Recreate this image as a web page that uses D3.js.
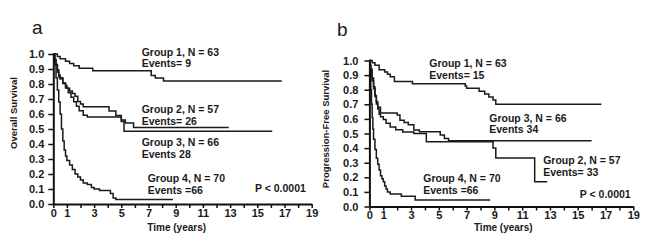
<!DOCTYPE html>
<html>
<head>
<meta charset="utf-8">
<script src="https://cdn.jsdelivr.net/npm/d3@7"></script>
<style>
html,body{margin:0;padding:0;background:#fff;}
svg{display:block;}
text{font-family:"Liberation Sans",Arial,Helvetica,sans-serif;fill:#1a1a1a;}
</style>
</head>
<body>
<svg id="chart" width="650" height="251"></svg>
<script>
// ---------- DATA ----------
const xTickValues = d3.range(0, 20);
const xTickLabels = [0, 1, 3, 5, 7, 9, 11, 13, 15, 17, 19];
const yTickValues = d3.range(0, 11).map(d => d / 10);

// Panel a: Overall survival  [time (years), survival]
const osGroup1 = [[0,1],[0.3,0.984],[0.5,0.968],[0.9,0.952],[1.2,0.937],[1.5,0.921],[1.9,0.905],[2.9,0.889],[7.2,0.857],[7.5,0.84],[8.1,0.82]];
const osGroup1End = 16.8;
const osGroup2 = [[0,1],[0.1,0.965],[0.2,0.93],[0.3,0.895],[0.4,0.86],[0.5,0.842],[0.7,0.807],[0.9,0.79],[1.0,0.772],[1.2,0.754],[1.4,0.737],[1.6,0.719],[1.8,0.684],[2.0,0.667],[2.2,0.649],[4.1,0.62],[4.6,0.59],[5.0,0.56],[5.3,0.54],[5.9,0.51]];
const osGroup2End = 12.9;
const osGroup3 = [[0,1],[0.1,0.955],[0.2,0.924],[0.3,0.879],[0.4,0.848],[0.5,0.833],[0.7,0.803],[0.9,0.773],[1.1,0.742],[1.3,0.712],[1.5,0.682],[1.7,0.652],[1.9,0.621],[2.2,0.591],[2.5,0.58],[5.0,0.55],[5.2,0.485]];
const osGroup3End = 16.1;
const osGroup4 = [[0,1],[0.1,0.93],[0.2,0.84],[0.3,0.76],[0.4,0.68],[0.5,0.6],[0.6,0.5],[0.7,0.42],[0.8,0.36],[0.9,0.32],[1.0,0.29],[1.2,0.26],[1.4,0.23],[1.6,0.2],[1.8,0.18],[2.0,0.16],[2.2,0.14],[2.5,0.13],[2.8,0.11],[3.0,0.1],[3.4,0.09],[4.2,0.07],[4.4,0.04],[4.6,0.03]];
const osGroup4End = 8.8;

// Panel b: Progression-free survival
const pfsGroup1 = [[0,1],[0.2,0.984],[0.4,0.968],[0.7,0.937],[1.1,0.921],[1.3,0.905],[1.5,0.889],[1.8,0.857],[3.1,0.841],[6.9,0.825],[7.0,0.81],[7.9,0.79],[8.3,0.77],[8.6,0.75],[8.9,0.73],[9.1,0.70]];
const pfsGroup1End = 16.7;
const pfsGroup2 = [[0,1],[0.05,0.965],[0.1,0.93],[0.15,0.895],[0.2,0.86],[0.3,0.807],[0.4,0.754],[0.5,0.702],[0.6,0.667],[0.7,0.632],[0.8,0.614],[1.0,0.596],[1.2,0.57],[1.5,0.544],[1.9,0.526],[2.4,0.51],[3.2,0.5],[4.1,0.444],[8.9,0.40],[9.1,0.333],[11.9,0.17]];
const pfsGroup2End = 12.8;
const pfsGroup3 = [[0,1],[0.05,0.97],[0.1,0.94],[0.2,0.88],[0.3,0.82],[0.4,0.76],[0.5,0.72],[0.6,0.68],[0.8,0.64],[2.0,0.627],[2.2,0.59],[2.5,0.575],[2.8,0.56],[3.2,0.524],[3.6,0.512],[5.1,0.49],[5.4,0.465],[5.7,0.45]];
const pfsGroup3End = 16.0;
const pfsGroup4 = [[0,1],[0.05,0.9],[0.1,0.8],[0.15,0.7],[0.2,0.61],[0.25,0.53],[0.3,0.46],[0.4,0.39],[0.5,0.33],[0.6,0.29],[0.7,0.25],[0.8,0.21],[0.9,0.19],[1.0,0.17],[1.1,0.14],[1.2,0.12],[1.3,0.1],[1.5,0.086],[2.3,0.071],[3.3,0.045]];
const pfsGroup4End = 8.7;

const osLabels = ["Group 1, N = 63","Events= 9","Group 2, N = 57","Events= 26","Group 3, N = 66","Events 28","Group 4, N = 70","Events =66","P < 0.0001"];
const pfsLabels = ["Group 1, N = 63","Events= 15","Group 3, N = 66","Events 34","Group 2, N = 57","Events= 33","Group 4, N = 70","Events =66","P < 0.0001"];

// ---------- LAYOUT ----------
const panels = [
  { letter:"a", letterPos:[32,33.5], yTitle:"Overall Survival", yTitlePos:[16.5,113],
    x0:53.3, x1:311.7, y0:204, y1:54, xTitlePos:[176.7,230.5], xLabelDy:13,
    curves:[[osGroup1,osGroup1End],[osGroup2,osGroup2End],[osGroup3,osGroup3End],[osGroup4,osGroup4End]],
    labels:osLabels,
    labelPos:[[6.5,0.987],[6.5,0.913],[6.5,0.607],[6.5,0.53],[6.5,0.387],[6.5,0.307],[6.94,0.147],[6.94,0.067],[14.83,0.08]],
    yLabelGap:9 },
  { letter:"b", letterPos:[337,36], yTitle:"Progression-Free Survival", yTitlePos:[329,129],
    x0:369.4, x1:633.3, y0:206.5, y1:60.5, xTitlePos:[503.3,230.5], xLabelDy:12.5,
    curves:[[pfsGroup1,pfsGroup1End],[pfsGroup2,pfsGroup2End],[pfsGroup3,pfsGroup3End],[pfsGroup4,pfsGroup4End]],
    labels:pfsLabels,
    labelPos:[[4.31,0.955],[4.31,0.873],[8.63,0.582],[8.63,0.503],[12.51,0.288],[12.51,0.209],[3.88,0.168],[3.88,0.086],[15.15,0.058]],
    yLabelGap:11 }
];

const svg = d3.select("#chart");

panels.forEach(p => {
  const x = d3.scaleLinear().domain([0,19]).range([p.x0,p.x1]);
  const y = d3.scaleLinear().domain([0,1]).range([p.y0,p.y1]);
  const g = svg.append("g");

  // panel letter
  g.append("text").attr("x",p.letterPos[0]).attr("y",p.letterPos[1])
    .style("font-size","19px").style("font-family","Arial, 'Liberation Sans', sans-serif").text(p.letter);

  // curves
  const line = d3.line().x(d=>x(d[0])).y(d=>y(d[1])).curve(d3.curveStepAfter);
  p.curves.forEach(([pts,end]) => {
    const full = pts.concat([[end, pts[pts.length-1][1]]]);
    g.append("path").attr("d",line(full)).attr("fill","none")
      .attr("stroke","#1a1a1a").attr("stroke-width",1.5);
  });

  // x axis
  const xAxis = d3.axisBottom(x).tickValues(xTickValues).tickSize(4).tickSizeOuter(0)
    .tickFormat(d => xTickLabels.includes(d) ? d : "");
  const gx = g.append("g").attr("transform",`translate(0,${p.y0})`).call(xAxis);
  gx.select(".domain").attr("stroke","#111").attr("stroke-width",2);
  gx.selectAll(".tick line").attr("stroke","#111").attr("stroke-width",1.5);
  gx.selectAll(".tick text").attr("y",p.xLabelDy).attr("dy",null)
    .style("font-size","11px").style("font-weight","bold").attr("fill","#1a1a1a");

  // y axis
  const yAxis = d3.axisLeft(y).tickValues(yTickValues).tickSize(5).tickSizeOuter(0)
    .tickFormat(d3.format(".1f"));
  const gy = g.append("g").attr("transform",`translate(${p.x0},0)`).call(yAxis);
  gy.select(".domain").attr("stroke","#111").attr("stroke-width",2);
  gy.selectAll(".tick line").attr("stroke","#111").attr("stroke-width",1.5);
  gy.selectAll(".tick text").attr("x",-p.yLabelGap)
    .style("font-size","11px").style("font-weight","bold").attr("fill","#1a1a1a");

  // axis titles
  g.append("text").attr("x",p.xTitlePos[0]).attr("y",p.xTitlePos[1]).attr("text-anchor","middle")
    .style("font-size","10px").style("font-weight","bold").text("Time (years)");
  g.append("text").attr("transform",`translate(${p.yTitlePos[0]},${p.yTitlePos[1]}) rotate(-90)`)
    .attr("text-anchor","middle").style("font-size","9.5px").style("font-weight","bold").text(p.yTitle);

  // annotations
  p.labels.forEach((t,i) => {
    g.append("text").attr("x",x(p.labelPos[i][0])).attr("y",y(p.labelPos[i][1]))
      .style("font-size","10.5px").style("font-weight","bold").text(t);
  });
});
</script>
</body>
</html>
